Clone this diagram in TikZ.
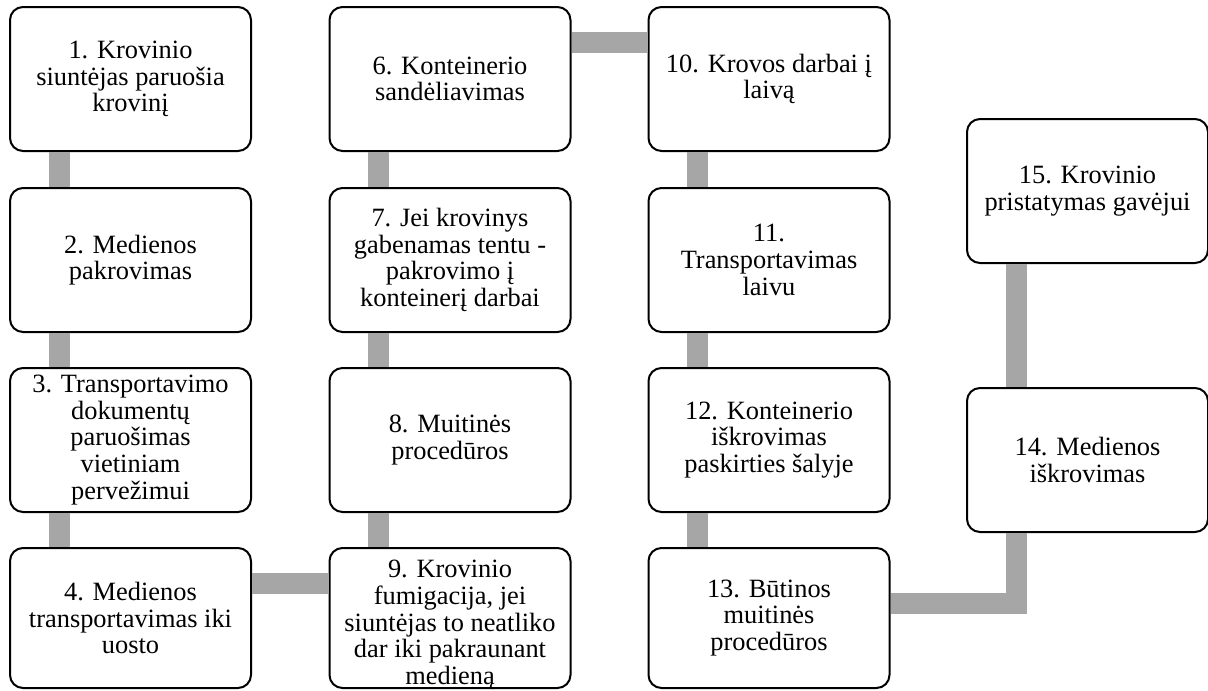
\documentclass[tikz,border=0pt]{standalone}
\usepackage{fontspec}
\setmainfont{Liberation Serif}
\begin{document}
\begin{tikzpicture}[x=1pt,y=-1pt,
  stepbox/.style={draw=black, line width=2pt, rounded corners=13pt, fill=white,
    minimum width=241pt, minimum height=144pt, inner sep=0pt, align=center,
    font=\fontsize{26.4}{26.7}\selectfont},
  lowbox/.style={stepbox, minimum height=140pt},
  conn/.style={draw=linkgray, line width=21pt, line join=miter, line cap=butt}]
\definecolor{linkgray}{RGB}{166,166,166}
\useasboundingbox (0,0) rectangle (1208,691);

% column 1
\node[stepbox] (n1) at (130.5,79) {1. Krovinio\\siuntėjas paruošia\\krovinį};
\node[stepbox] (n2) at (130.5,260) {2. Medienos\\pakrovimas};
\node[stepbox] (n3) at (130.5,440) {3. Transportavimo\\dokumentų\\paruošimas\\vietiniam\\pervežimui};
\node[lowbox]  (n4) at (130.5,618) {4. Medienos\\transportavimas iki\\uosto};
% column 2
\node[stepbox] (n6) at (450,79) {6. Konteinerio\\sandėliavimas};
\node[stepbox] (n7) at (450,260) {7. Jei krovinys\\gabenamas tentu -\\pakrovimo į\\konteinerį darbai};
\node[stepbox] (n8) at (450,440) {8. Muitinės\\procedūros};
% five lines fill the box, so the block is set a little lower
\node[lowbox] (n9) at (450,618)
  {\raisebox{-14pt}[0pt][0pt]{\begin{tabular}{@{}c@{}}9. Krovinio\\fumigacija, jei\\siuntėjas to neatliko\\dar iki pakraunant\\medieną\end{tabular}}};
% column 3
\node[stepbox] (n10) at (769,79) {10. Krovos darbai į\\laivą};
\node[stepbox] (n11) at (769,260) {11.\\Transportavimas\\laivu};
\node[stepbox] (n12) at (769,440) {12. Konteinerio\\iškrovimas\\paskirties šalyje};
\node[lowbox]  (n13) at (769,618) {13. Būtinos\\muitinės\\procedūros};
% column 4
\node[stepbox] (n15) at (1087.5,191) {15. Krovinio\\pristatymas gavėjui};
\node[stepbox] (n14) at (1087.5,460) {14. Medienos\\iškrovimas};

% connectors between the boxes
\path[conn] ([xshift=50pt]n1.south west) -- ([xshift=50pt]n2.north west);
\path[conn] ([xshift=50pt]n2.south west) -- ([xshift=50pt]n3.north west);
\path[conn] ([xshift=50pt]n3.south west) -- ([xshift=50pt]n4.north west);
\path[conn] ([yshift=-36pt]n4.north east) -- ([yshift=-36pt]n9.north west);
\path[conn] ([xshift=50pt]n9.north west) -- ([xshift=50pt]n8.south west);
\path[conn] ([xshift=50pt]n8.north west) -- ([xshift=50pt]n7.south west);
\path[conn] ([xshift=50pt]n7.north west) -- ([xshift=50pt]n6.south west);
\path[conn] ([yshift=-36pt]n6.north east) -- ([yshift=-36pt]n10.north west);
\path[conn] ([xshift=50pt]n10.south west) -- ([xshift=50pt]n11.north west);
\path[conn] ([xshift=50pt]n11.south west) -- ([xshift=50pt]n12.north west);
\path[conn] ([xshift=50pt]n12.south west) -- ([xshift=50pt]n13.north west);
\path[conn] ([yshift=-56pt]n13.north east) -| ([xshift=50pt]n14.south west);
\path[conn] ([xshift=50pt]n14.north west) -- ([xshift=50pt]n15.south west);
\end{tikzpicture}
\end{document}
